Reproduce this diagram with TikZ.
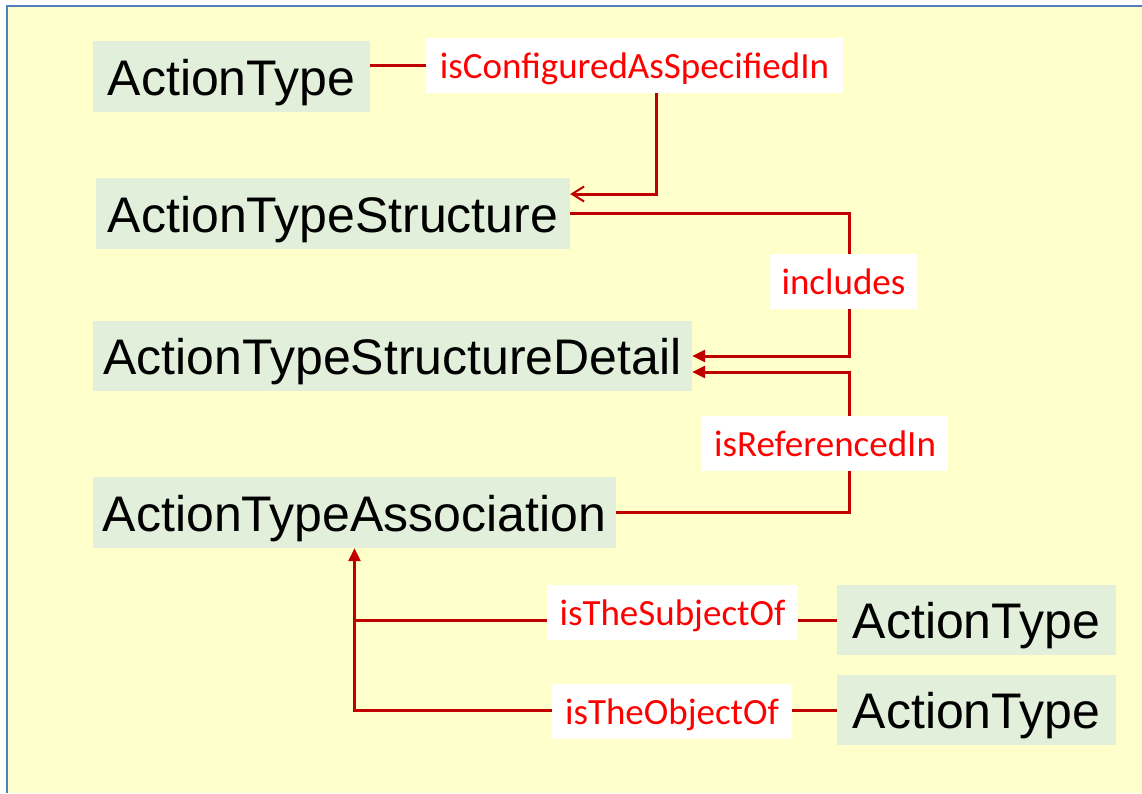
\documentclass[tikz,border=0pt]{standalone}
\usepackage{fontspec}
\setmainfont{Liberation Sans}
\newfontfamily\relfont{Carlito}
\usetikzlibrary{arrows.meta}
\definecolor{bg}{HTML}{FFFFCC}
\definecolor{boxfill}{HTML}{E2EFDA}
\definecolor{linkred}{HTML}{C00000}
\definecolor{frameblue}{HTML}{4F81BD}
\begin{document}
\begin{tikzpicture}[x=1pt,y=-1pt,
  cls/.style={fill=boxfill, text=black, inner sep=0pt,
    text height=37pt, text depth=0pt,
    font=\fontsize{50}{60}\selectfont},
  rel/.style={fill=white, text=red, inner sep=0pt,
    text height=25pt, text depth=0pt,
    font=\relfont\fontsize{37}{44}\selectfont},
  link/.style={draw=linkred, line width=3pt},
  tri/.style={-{Triangle[length=13pt,width=12pt]}},
  barb/.style={-{Straight Barb[length=12pt,width=15pt,line width=2pt]}}]

\useasboundingbox (0,0) rectangle (1142,793);
\fill[white] (0,0) rectangle (1142,793);
\fill[bg] (6,5) rectangle (1142,793);
\draw[frameblue, line width=2pt] (7,793) -- (7,6) -- (1142,6);

% classes
\node[cls, minimum width=277pt, minimum height=71pt] (at1)  at (231.5,76.5) {ActionType};
\node[cls, minimum width=474pt, minimum height=71pt] (ats)  at (333,213.5) {ActionTypeStructure};
\node[cls, minimum width=599pt, minimum height=70pt] (atsd) at (392.5,356) {ActionTypeStructureDetail};
\node[cls, minimum width=523pt, minimum height=71pt] (ata)  at (354.5,512.5) {ActionTypeAssociation};
\node[cls, minimum width=279pt, minimum height=70pt] (at2)  at (976.5,620) {ActionType};
\node[cls, minimum width=279pt, minimum height=70pt] (at3)  at (976.5,710) {ActionType};

% relation labels
\node[rel, minimum width=417pt, minimum height=55pt] (l1) at (634.5,65.5) {isConfiguredAsSpecifiedIn};
\node[rel, minimum width=147pt, minimum height=55pt] (l2) at (843.5,281.5) {includes};
\node[rel, minimum width=246pt, minimum height=55pt] (l3) at (825,443.5) {isReferencedIn};
\node[rel, minimum width=251pt, minimum height=55pt] (l4) at (672.5,612.5) {isTheSubjectOf};
\node[rel, minimum width=240pt, minimum height=55pt] (l5) at (672,711.5) {isTheObjectOf};

\coordinate (r1) at (849,0);

% connectors
\draw[link] (at1.east |- l1.west) -- (l1.west);
\draw[link,barb] ([xshift=22pt]l1.south) |- ([yshift=19.5pt]ats.east);

\draw[link] (ats.east) -| (r1 |- l2.north);
\draw[link,tri] (r1 |- l2.south) |- (atsd.east);

\draw[link] (ata.east) -| (r1 |- l3.south);
\draw[link,tri] (r1 |- l3.north) |- ([yshift=-16pt]atsd.east);

\draw[link] (at2.west) -- (l4.east |- at2.west);
\draw[link] (l4.west |- at2.west) -- (ata.south |- at2.west);
\draw[link] (at3.west) -- (l5.east |- at3.west);
\draw[link,tri] (l5.west |- at3.west) -| (ata.south);
\end{tikzpicture}
\end{document}
